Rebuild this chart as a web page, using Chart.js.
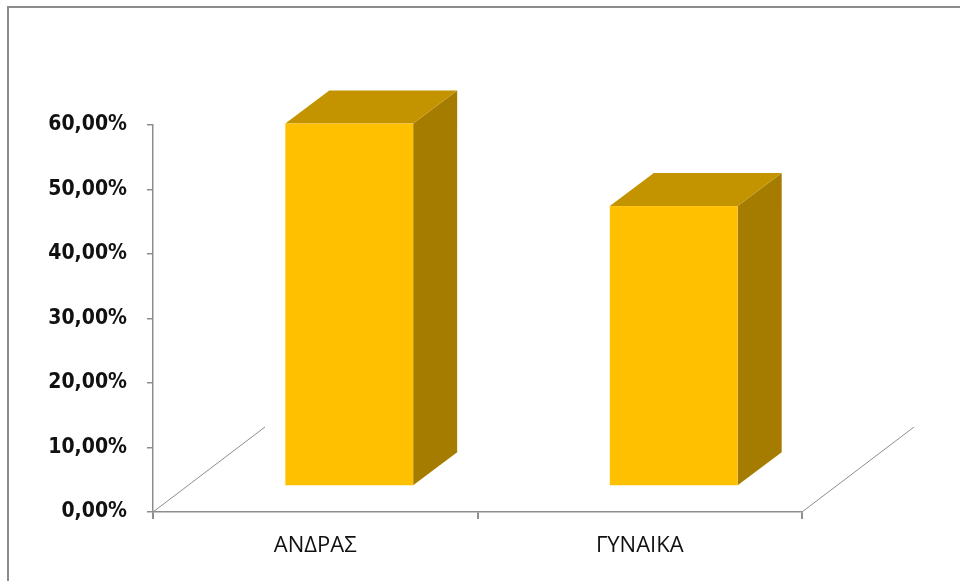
<!DOCTYPE html>
<html>
<head>
<meta charset="utf-8">
<title>ΑΝΔΡΑΣ / ΓΥΝΑΙΚΑ</title>
<script src="https://cdn.jsdelivr.net/npm/chart.js@4.4.1/dist/chart.umd.min.js"></script>
<style>
  html, body { margin: 0; padding: 0; background: #fff; }
  #wrap { position: relative; width: 960px; height: 581px; overflow: hidden; }
  #frame {
    position: absolute; left: 7px; top: 6px; right: -10px; bottom: -10px;
    border-left: 2px solid #8c8c8c; border-top: 2px solid #8c8c8c;
  }
  canvas { position: absolute; left: 0; top: 0; }
</style>
</head>
<body>
<div id="wrap">
  <div id="frame"></div>
  <canvas id="genderChart" width="960" height="581"></canvas>
</div>
<script>
// Share of respondents by gender
const categories = ['ΑΝΔΡΑΣ', 'ΓΥΝΑΙΚΑ'];
const percentages = [56.2, 43.4];
const yTicks = [0, 10, 20, 30, 40, 50, 60];

// Colours of the three visible faces of each column
const frontColor = '#FFC000';
const topColor = '#C49300';
const sideColor = '#A67C00';
const axisColor = '#8e8e8e';

// Oblique offsets: where the column stands on the floor, its depth, the floor depth
const standOff = { x: 34, y: -26 };
const depth = { x: 44, y: -33 };
const floorDepth = { x: 112, y: -85 };

function face(ctx, pts, color) {
    ctx.fillStyle = color;
    ctx.beginPath();
    ctx.moveTo(pts[0][0], pts[0][1]);
    pts.slice(1).forEach(p => ctx.lineTo(p[0], p[1]));
    ctx.closePath();
    ctx.fill();
}

// Draws the floor edges and the 3D columns from the bar elements
const columns3d = {
    id: 'columns3d',
    beforeDatasetsDraw(chart) {
        const { ctx, chartArea: a } = chart;
        ctx.save();
        ctx.strokeStyle = axisColor;
        ctx.lineWidth = 1;
        [a.left, a.right].forEach(x => {
            ctx.beginPath();
            ctx.moveTo(x, a.bottom);
            ctx.lineTo(x + floorDepth.x, a.bottom + floorDepth.y);
            ctx.stroke();
        });
        ctx.restore();
    },
    afterDatasetsDraw(chart) {
        const ctx = chart.ctx;
        ctx.save();
        chart.getDatasetMeta(0).data.forEach(bar => {
            const left = bar.x - bar.width / 2 + standOff.x;
            const right = bar.x + bar.width / 2 + standOff.x;
            const top = bar.y + standOff.y;
            const bottom = bar.base + standOff.y;

            face(ctx, [[right, top], [right + depth.x, top + depth.y],
                       [right + depth.x, bottom + depth.y], [right, bottom]], sideColor);
            face(ctx, [[left, top], [left + depth.x, top + depth.y],
                       [right + depth.x, top + depth.y], [right, top]], topColor);
            ctx.fillStyle = frontColor;
            ctx.fillRect(left, top, right - left, bottom - top);
        });
        ctx.restore();
    }
};

const ctx = document.getElementById('genderChart').getContext('2d');
const genderChart = new Chart(ctx, {
    type: 'bar',
    data: {
        labels: categories,
        datasets: [{
            data: percentages,
            backgroundColor: 'rgba(0,0,0,0)',
            categoryPercentage: 1,
            barPercentage: 0.394
        }]
    },
    options: {
        responsive: false,
        animation: false,
        devicePixelRatio: 1,
        layout: {
            padding: { top: 125, right: 158, bottom: 0, left: 0 }
        },
        scales: {
            x: {
                grid: {
                    offset: true,
                    drawOnChartArea: false,
                    tickLength: 7,
                    color: axisColor,
                    lineWidth: 2
                },
                border: { color: axisColor, width: 1.5 },
                ticks: {
                    color: '#111',
                    padding: 14,
                    font: { family: '"Open Sans", "Noto Sans", sans-serif', size: 22 }
                },
                afterFit: scale => { scale.height = 69; }
            },
            y: {
                min: 0,
                max: 60,
                afterBuildTicks: scale => {
                    scale.ticks = yTicks.map(v => ({ value: v }));
                },
                grid: {
                    drawOnChartArea: false,
                    tickLength: 6,
                    color: axisColor,
                    lineWidth: 1.5
                },
                border: { color: axisColor, width: 1.5 },
                ticks: {
                    color: '#111',
                    padding: 20,
                    font: {
                        family: '"DejaVu Sans Condensed", "Liberation Sans Narrow", "DejaVu Sans", sans-serif',
                        size: 21,
                        weight: 'bold'
                    },
                    callback: v => v.toFixed(2).replace('.', ',') + '%'
                },
                afterFit: scale => { scale.width = 153; }
            }
        },
        plugins: {
            legend: { display: false },
            tooltip: { enabled: false }
        }
    },
    plugins: [columns3d]
});
</script>
</body>
</html>
